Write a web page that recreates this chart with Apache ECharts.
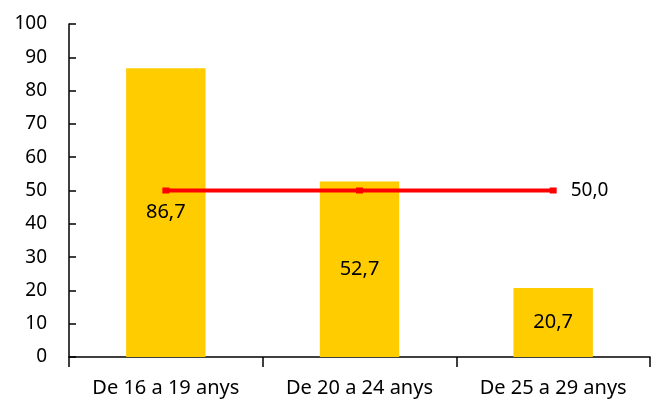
<!DOCTYPE html>
<html>
<head>
<meta charset="utf-8">
<script src="https://cdn.jsdelivr.net/npm/echarts@6/dist/echarts.min.js"></script>
<style>
  html, body { margin: 0; padding: 0; background: #fff; }
  #chart { width: 651px; height: 407px; }
</style>
</head>
<body>
<div id="chart"></div>
<script>
// dades
const categories = ['De 16 a 19 anys', 'De 20 a 24 anys', 'De 25 a 29 anys']
const barValues = [86.7, 52.7, 20.7]
const lineValues = [50, 50, 50]
const yTicks = { min: 0, max: 100, interval: 10 }

const font = 'Noto Sans'
const comma = (v, d) => v.toFixed(d).replace('.', ',')

const chart = echarts.init(document.getElementById('chart'))
chart.setOption({
  animation: false,
  backgroundColor: '#fff',
  textStyle: { fontFamily: font, color: '#000' },
  grid: { left: 69, right: 1, top: 24, bottom: 50 },
  xAxis: {
    type: 'category',
    data: categories,
    axisLine: { lineStyle: { color: '#000', width: 1.5 } },
    axisTick: { show: true, length: 10, lineStyle: { color: '#000', width: 1.5 } },
    axisLabel: { color: '#000', fontSize: 20, fontFamily: font, margin: 21 },
  },
  yAxis: {
    type: 'value',
    min: yTicks.min,
    max: yTicks.max,
    interval: yTicks.interval,
    axisLine: { show: true, lineStyle: { color: '#000', width: 1.5 } },
    axisTick: { show: true, inside: true, length: 7, lineStyle: { color: '#000', width: 1.5 } },
    axisLabel: { color: '#000', fontSize: 19, fontFamily: font, margin: 22 },
    splitLine: { show: false },
  },
  series: [
    {
      type: 'bar',
      data: barValues,
      barWidth: '41%',
      itemStyle: { color: '#FFCC00' },
      label: {
        show: true,
        position: 'inside',
        color: '#000',
        fontSize: 20,
        fontFamily: font,
        formatter: (p) => comma(p.value, 1),
      },
    },
    {
      type: 'line',
      data: lineValues,
      symbol: 'rect',
      symbolSize: [7, 6],
      itemStyle: { color: '#FF0000' },
      lineStyle: { color: '#FF0000', width: 4 },
      label: {
        show: true,
        position: 'right',
        distance: 14,
        color: '#000',
        fontSize: 19,
        fontFamily: font,
        formatter: (p) => (p.dataIndex === lineValues.length - 1 ? comma(p.value, 1) : ''),
      },
      z: 3,
    },
  ],
})
</script>
</body>
</html>
